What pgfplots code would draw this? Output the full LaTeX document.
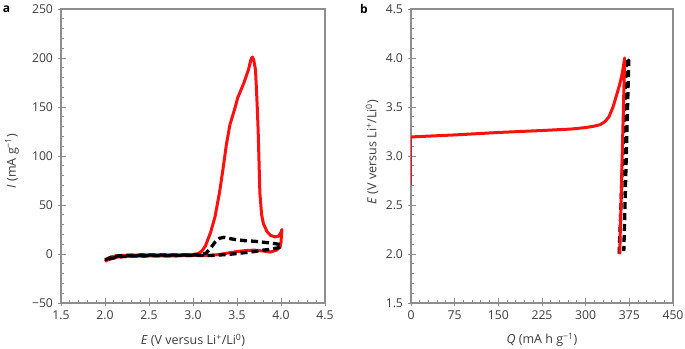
\documentclass[border=0pt]{standalone}
\usepackage{fontspec}
\setmainfont{Open Sans}
\usepackage{pgfplots}
\pgfplotsset{compat=1.18}
\definecolor{txt}{HTML}{3C3C3C}
\definecolor{axc}{HTML}{8E8E8E}
\definecolor{myred}{HTML}{FF1010}
\begin{document}
\begin{tikzpicture}
\path[use as bounding box] (0pt,0pt) rectangle (685pt,348pt);
\pgfplotsset{
 myax/.style={
  scale only axis, anchor=south west,
  axis line style={axc, line width=1.3pt},
  tick style={axc, line width=0.9pt},
  tick align=inside, major tick length=5pt, minor tick length=3pt,
  xtick pos=left, ytick pos=left,
  tick label style={font=\fontsize{12.2}{14}\selectfont, text=txt},
  xticklabel shift=4.5pt, yticklabel shift=4.5pt,
  minor x tick num=4, minor y tick num=4,
  extra x tick labels={}, extra y tick labels={},
  extra tick style={tick align=outside, major tick length=3pt},
 },
 redl/.style={myred, line width=3pt, line join=round},
 blkd/.style={black, line width=3.3pt, dash pattern=on 7pt off 4pt},
}
\begin{axis}[myax, at={(61pt,45pt)}, width=264pt, height=294pt,
  xmin=1.5, xmax=4.5, ymin=-50, ymax=250,
  xtick={1.5,2.0,2.5,3.0,3.5,4.0,4.5},
  xticklabels={1.5,2.0,2.5,3.0,3.5,4.0,4.5},
  ytick={-50,0,50,100,150,200,250},
  yticklabels={−50,0,50,100,150,200,250},
  extra x ticks={1.5,2.0,2.5,3.0,3.5,4.0,4.5},
  extra y ticks={-50,0,50,100,150,200,250}]
\addplot[redl] coordinates {
(2.00,-7.5)(2.03,-5)(2.07,-3)(2.12,-2)(2.2,-1.5)(2.4,-1)(2.6,-1)(2.8,-1)(3.0,-0.5)
(3.06,0.5)(3.1,3)(3.14,8)(3.2,22)(3.25,38)(3.3,62)(3.34,86)(3.38,112)(3.42,132)
(3.44,138)(3.48,150)(3.51,160)(3.53,164)(3.58,175)(3.63,188)(3.66,199)(3.675,201)
(3.69,198)(3.71,188)(3.72,170)(3.73,150)(3.74,127)(3.75,95)(3.76,62)(3.78,40)
(3.80,31)(3.84,23)(3.88,19)(3.93,17.5)(3.97,18)(4.0,22)(4.01,25)
(4.0,12)(3.99,7)(3.95,4)(3.88,2)(3.8,3)(3.7,4)(3.6,3.5)(3.5,2.5)(3.42,1.3)
(3.3,-0.5)(3.2,-1.5)(3.0,-1.5)(2.8,-1.8)(2.5,-2)(2.3,-2.3)(2.15,-3)(2.08,-4.5)
(2.03,-6)(2.0,-7.5)};
\addplot[blkd] coordinates {
(2.0,-6)(2.05,-4)(2.1,-2.5)(2.2,-1.5)(2.5,-1)(2.8,-1)(3.0,-1)(3.1,-0.5)(3.15,1)
(3.2,6)(3.25,12)(3.3,16)(3.35,17)(3.4,16)(3.5,14.5)(3.6,13.5)(3.7,13)(3.8,12)
(3.9,11)(3.97,10)(4.0,9.5)
(4.0,8)(3.97,6.5)(3.9,5)(3.8,4)(3.7,2.5)(3.6,1.5)(3.5,0.5)(3.4,-0.5)(3.2,-1.5)
(3.0,-1.5)(2.6,-1.8)(2.3,-2)(2.15,-3)(2.05,-5)(2.0,-6)};
\end{axis}
\begin{axis}[myax, at={(411pt,45pt)}, width=262pt, height=294pt,
  xmin=0, xmax=450, ymin=1.5, ymax=4.5,
  xtick={0,75,150,225,300,375,450},
  xticklabels={0,75,150,225,300,375,450},
  ytick={1.5,2.0,2.5,3.0,3.5,4.0,4.5},
  yticklabels={1.5,2.0,2.5,3.0,3.5,4.0,4.5},
  extra x ticks={0,75,150,225,300,375,450},
  extra y ticks={1.5,2.0,2.5,3.0,3.5,4.0,4.5}]
\addplot[blkd] coordinates {(357.5,2.0)(370,4.0)(374,3.97)(365.5,2.03)};
\addplot[myred, line width=0.9pt] coordinates {(0,2.70)(0,3.19)};
\addplot[redl] coordinates {
(0.5,3.19)(2,3.195)(20,3.2)(75,3.215)(150,3.24)(225,3.26)(275,3.275)
(300,3.29)(315,3.305)(325,3.32)(333,3.35)(340,3.40)(347,3.50)(353,3.62)
(358,3.72)(362,3.82)(365,3.92)(367,4.0)(358.5,2.0)};
\end{axis}
\begin{scope}[font=\fontsize{12.5}{14}\selectfont, text=txt]
\node[font=\bfseries\fontsize{12}{14}\selectfont, text=black] at (6.5pt,338.5pt) {a};
\node[font=\bfseries\fontsize{12}{14}\selectfont, text=black] at (364pt,339pt) {b};
\node[rotate=90] at (12pt,187pt) {\textit{I} (mA g\textsuperscript{−1})};
\node at (193pt,8pt) {\textit{E} (V versus Li\textsuperscript{+}/Li\textsuperscript{0})};
\node at (542pt,8pt) {\textit{Q} (mA h g\textsuperscript{−1})};
\node[rotate=90] at (372pt,196pt) {\textit{E} (V versus Li\textsuperscript{+}/Li\textsuperscript{0})};
\end{scope}
\end{tikzpicture}
\end{document}
